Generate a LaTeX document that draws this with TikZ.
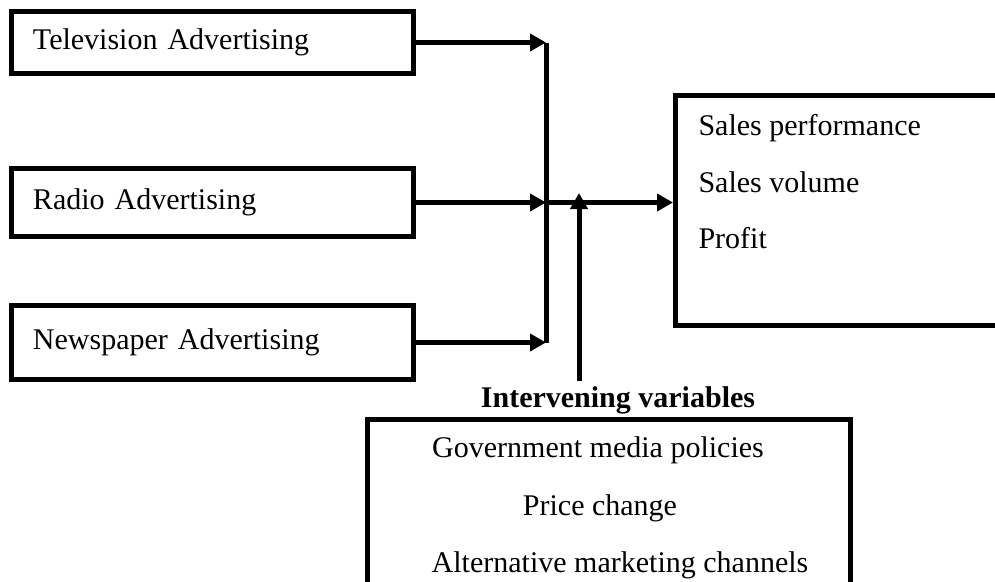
\documentclass[tikz,border=0pt]{standalone}
\usepackage{fontspec}
\setmainfont{Liberation Serif}
\usetikzlibrary{arrows.meta,positioning}

\tikzset{
  adbox/.style={draw, line width=2pt, text width=143.6pt, inner xsep=8.6pt, align=left},
  resbox/.style={draw, line width=2pt},
  item/.style={inner sep=0pt, anchor=base west},
}

\begin{document}
\begin{tikzpicture}[x=0.4pt,y=-0.4pt,line width=2pt,>={Triangle[length=6.4pt,width=6.8pt]},font=\fontsize{12}{14}\selectfont]
  \useasboundingbox (0,0) rectangle (995,581);
  \clip (0,0) rectangle (995,581);
  % advertising media
  \node[adbox,minimum height=24.8pt] (tv) at (212.5,42.5) {Television Advertising};
  \node[adbox,minimum height=27.2pt] (radio) [below of=tv,node distance=64pt] {Radio Advertising};
  \node[adbox,minimum height=29.6pt] (paper) [below of=radio,node distance=56pt] {Newspaper Advertising};
  \coordinate (jt) at (546,42.5);
  \coordinate (jr) at (radio.east -| jt);
  \coordinate (jp) at (paper.east -| jt);
  % dependent variables
  \node[resbox,minimum width=153.8pt,minimum height=92pt] (perf) at (867.75,210.5) {};
  \node[item] (sp) at (696,135) {Sales performance};
  \node[item] (sv) at (696,192) {Sales volume};
  \node[item] (pf) at (696,248) {Profit};
  % intervening variables
  \node[anchor=base,inner sep=1pt,font=\fontsize{12}{14}\selectfont\bfseries] (ivtitle) at (618,407) {Intervening variables};
  \node[resbox,minimum width=193.2pt,minimum height=88.2pt] (ivbox) at (609,529.75) {};
  \node[anchor=base] (gm) at (598,457) {Government media policies};
  \node[anchor=base] (pc) at (600,515) {Price change};
  \node[anchor=base] (am) at (620,572) {Alternative marketing channels};
  \coordinate (up) at (579,193);
  \path[->]
    (tv.east) edge (jt)
    (radio.east) edge (jr)
    (paper.east) edge (jp)
    (jr) edge (perf.west |- jr)
    (ivtitle.north -| up) edge (up);
  \draw (jt) -- (jp);
\end{tikzpicture}
\end{document}
